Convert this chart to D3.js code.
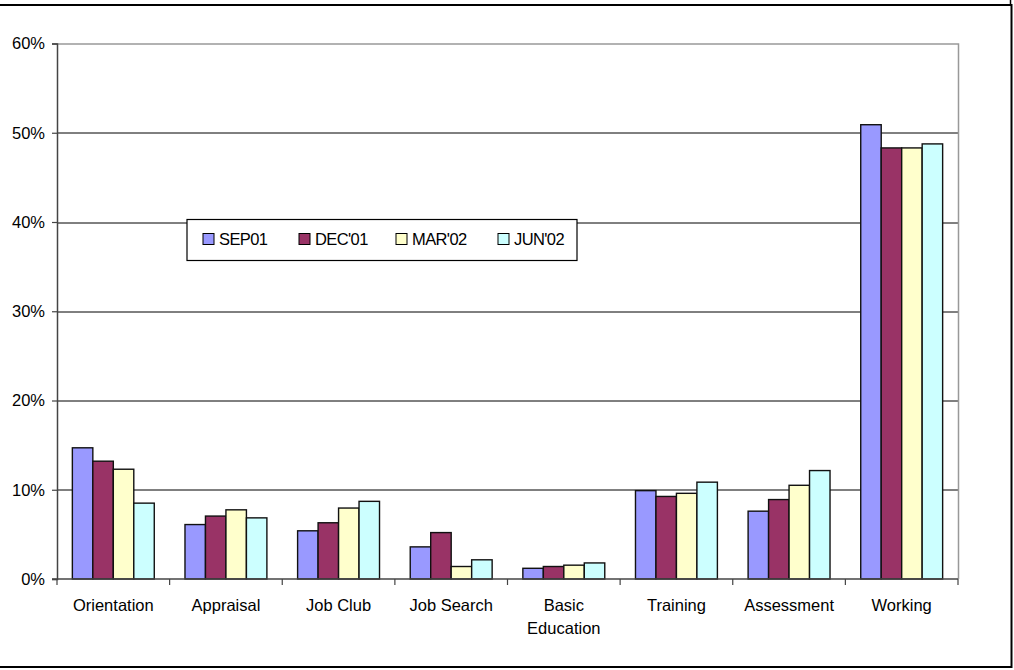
<!DOCTYPE html>
<html>
<head>
<meta charset="utf-8">
<script src="https://cdn.jsdelivr.net/npm/d3@7"></script>
<style>
  body { margin: 0; background: #fff; }
  text { font-family: "Liberation Sans", Arial, sans-serif; font-size: 16.5px; fill: #000; }
</style>
</head>
<body>
<div id="chart"></div>
<script>
const categories = ["Orientation", "Appraisal", "Job Club", "Job Search", "Basic\nEducation", "Training", "Assessment", "Working"];
const seriesNames = ["SEP01", "DEC'01", "MAR'02", "JUN'02"];
const sep01 = [14.7, 6.1, 5.4, 3.6, 1.2, 9.9, 7.6, 50.9];
const dec01 = [13.2, 7.05, 6.3, 5.2, 1.4, 9.25, 8.9, 48.3];
const mar02 = [12.3, 7.75, 7.95, 1.4, 1.55, 9.6, 10.5, 48.3];
const jun02 = [8.5, 6.85, 8.7, 2.15, 1.8, 10.85, 12.15, 48.75];
const yTicks = [0, 10, 20, 30, 40, 50, 60];
const colors = ["#9999FF", "#993366", "#FFFFCC", "#CCFFFF"];

const values = [sep01, dec01, mar02, jun02];
const rows = categories.map((c, i) => ({ cat: c, vals: values.map(s => s[i]) }));

const W = 1014, H = 670;
const m = { left: 57, top: 43.5, right: 56, bottom: 91 };
const pw = W - m.left - m.right, ph = H - m.top - m.bottom;

const svg = d3.select("#chart").append("svg")
    .attr("width", W).attr("height", H);

// outer frame
svg.append("rect")
    .attr("x", -2).attr("y", 5).attr("width", 1013.5).attr("height", 662)
    .attr("fill", "none").attr("stroke", "#000").attr("stroke-width", 2);
svg.append("line").attr("x1", 1010.5).attr("x2", 1010.5).attr("y1", 0).attr("y2", 5)
    .attr("stroke", "#000").attr("stroke-width", 1.5);

const g = svg.append("g").attr("transform", "translate(" + m.left + "," + m.top + ")");

const x = d3.scaleBand().domain(categories).range([0, pw]).paddingInner(0).paddingOuter(0);
const units = 5.5; // 4 bars + 150% gap
const barW = x.bandwidth() / units;
const x1 = d3.scaleBand().domain(d3.range(4)).range([barW * 0.75, barW * 4.75]);
const y = d3.scaleLinear().domain([0, 60]).range([ph, 0]);

// gridlines
g.selectAll(".grid").data(yTicks.filter(t => t > 0 && t < 60)).enter()
    .append("line")
    .attr("x1", 0).attr("x2", pw)
    .attr("y1", d => Math.round(y(d)) + 0.5).attr("y2", d => Math.round(y(d)) + 0.5)
    .attr("stroke", "#000").attr("stroke-width", 1);

// plot border top/right (gray)
g.append("path")
    .attr("d", "M0," + (Math.round(y(60)) + 0.5) + "H" + (pw + 0.5) + "V" + ph)
    .attr("fill", "none").attr("stroke", "#999").attr("stroke-width", 1.5);

// bars
const grp = g.selectAll(".grp").data(rows).enter().append("g")
    .attr("transform", d => "translate(" + x(d.cat) + ",0)");
grp.selectAll("rect").data(d => d.vals).enter().append("rect")
    .attr("x", (d, i) => x1(i))
    .attr("width", x1.bandwidth())
    .attr("y", d => y(d))
    .attr("height", d => y(0) - y(d))
    .attr("fill", (d, i) => colors[i])
    .attr("stroke", "#111").attr("stroke-width", 1.4);

// y axis
const yAxis = g.append("g")
    .call(d3.axisLeft(y).tickValues(yTicks).tickFormat(d => d + "%").tickSize(5).tickPadding(7));
yAxis.select(".domain").attr("stroke", "#444").attr("stroke-width", 1.5);
yAxis.selectAll(".tick line").attr("stroke", "#444").attr("stroke-width", 1.2);
yAxis.selectAll("text").style("font-size", "16.5px").attr("fill", "#000");

// x axis
const xAxis = g.append("g").attr("transform", "translate(0," + ph + ")");
xAxis.append("line").attr("x1", -5).attr("x2", pw).attr("y1", 0).attr("y2", 0)
    .attr("stroke", "#444").attr("stroke-width", 1.5);
xAxis.selectAll(".xt").data(d3.range(categories.length + 1)).enter().append("line")
    .attr("x1", i => i * x.step()).attr("x2", i => i * x.step())
    .attr("y1", 0).attr("y2", 6)
    .attr("stroke", "#444").attr("stroke-width", 1.2);
const lbl = xAxis.selectAll(".xl").data(categories).enter().append("text")
    .attr("text-anchor", "middle")
    .attr("x", d => x(d) + x.bandwidth() / 2)
    .attr("y", 32);
lbl.selectAll("tspan").data(d => d.split("\n")).enter().append("tspan")
    .attr("x", function () { return d3.select(this.parentNode).attr("x"); })
    .attr("dy", (d, i) => i === 0 ? 0 : 23)
    .text(d => d);

// legend
const leg = svg.append("g").attr("transform", "translate(187,219.5)");
leg.append("rect").attr("width", 390).attr("height", 41)
    .attr("fill", "#fff").attr("stroke", "#000").attr("stroke-width", 1.2);
const items = leg.selectAll(".li").data(seriesNames).enter().append("g")
    .attr("transform", (d, i) => "translate(" + [16, 112, 209, 311][i] + ",14)");
items.append("rect").attr("width", 11).attr("height", 11)
    .attr("fill", (d, i) => colors[i]).attr("stroke", "#000").attr("stroke-width", 1);
items.append("text").attr("x", 16).attr("y", 11).text(d => d)
    .style("letter-spacing", "-0.6px");
</script>
</body>
</html>
